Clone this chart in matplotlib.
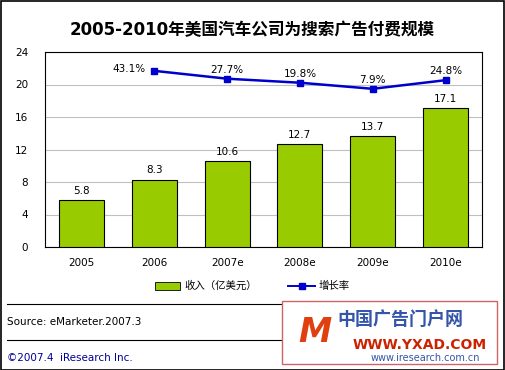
import matplotlib.pyplot as plt
from matplotlib.patches import Rectangle
from matplotlib.lines import Line2D

plt.rcParams['font.family'] = ['DejaVu Sans', 'Noto Sans CJK SC']

YEARS = ["2005", "2006", "2007e", "2008e", "2009e", "2010e"]
REVENUE = [5.8, 8.3, 10.6, 12.7, 13.7, 17.1]
GROWTH_YEARS = ["2006", "2007e", "2008e", "2009e", "2010e"]
GROWTH = [43.1, 27.7, 19.8, 7.9, 24.8]

GREEN = "#99cc00"
BLUE = "#0000cc"

W, H = 505, 370
fig = plt.figure(figsize=(W / 100, H / 100), dpi=100)


def fx(px):
    return px / W


def fy(py):
    return 1 - py / H


ax = fig.add_axes([fx(45), fy(247), fx(482) - fx(45), fy(52) - fy(247)])
x = list(range(len(YEARS)))
ax.bar(x, REVENUE, width=0.62, color=GREEN, edgecolor="black", linewidth=0.8, zorder=3)
for xi, v in zip(x, REVENUE):
    ax.annotate(f"{v:.1f}", (xi, v), ha="center", va="bottom", fontsize=7.5,
                textcoords="offset points", xytext=(0, 3))
ax.set_xlim(-0.5, len(YEARS) - 0.5)
ax.set_ylim(0, 24)
ax.set_yticks(range(0, 25, 4))
ax.set_xticks(x, YEARS)
ax.tick_params(length=0, labelsize=7.5, pad=8)
ax.tick_params(axis="y", pad=12)
ax.grid(axis="y", color="#c0c0c0", linewidth=0.8, zorder=0)
for s in ax.spines.values():
    s.set_linewidth(0.8)

# growth line on a hidden secondary scale
ax2 = ax.twinx()
gx = [YEARS.index(y) for y in GROWTH_YEARS]
ax2.plot(gx, GROWTH, color=BLUE, linewidth=1.8, marker="s", markersize=4.5, zorder=4)
for xi, g in zip(gx, GROWTH):
    if xi == 1:
        ax2.annotate(f"{g:.1f}%", (xi, g), ha="right", va="center", fontsize=7.5,
                     textcoords="offset points", xytext=(-6, 1))
    else:
        ax2.annotate(f"{g:.1f}%", (xi, g), ha="center", va="bottom", fontsize=7.5,
                     textcoords="offset points", xytext=(0, 3))
ax2.set_ylim(-302, 80)
ax2.set_yticks([])
for s in ax2.spines.values():
    s.set_visible(False)

fig.text(0.5, fy(30), "2005-2010年美国汽车公司为搜索广告付费规模", ha="center", va="center",
         fontsize=12, fontweight="bold")

# legend
fig.patches.append(Rectangle((fx(155), fy(290)), fx(25), fy(282) - fy(290), transform=fig.transFigure,
                             facecolor=GREEN, edgecolor="black", linewidth=0.6))
fig.text(fx(184), fy(286), "收入（亿美元）", va="center", fontsize=7.5)
fig.lines.append(Line2D([fx(288), fx(315)], [fy(286), fy(286)], transform=fig.transFigure,
                        color=BLUE, linewidth=1.4))
fig.lines.append(Line2D([fx(301.5)], [fy(286)], transform=fig.transFigure,
                        color=BLUE, marker="s", markersize=4))
fig.text(fx(319), fy(286), "增长率", va="center", fontsize=7.5)

# separators and footer
for py in (304, 340):
    fig.lines.append(Line2D([fx(7), fx(490)], [fy(py), fy(py)], transform=fig.transFigure,
                            color="black", linewidth=0.8))
fig.text(fx(7), fy(322), "Source: eMarketer.2007.3", va="center", fontsize=7.5)
fig.text(fx(7), fy(358), "©2007.4  iResearch Inc.", va="center", fontsize=7.5, color="#000099")

# watermark box
fig.patches.append(Rectangle((fx(282), fy(364)), fx(215), fy(301) - fy(364), transform=fig.transFigure,
                             facecolor="white", edgecolor="#cc6666", linewidth=1.0, zorder=5))
fig.text(fx(400), fy(320), "中国广告门户网", ha="center", va="center", fontsize=13,
         color="#3355aa", fontweight="bold", zorder=6)
fig.text(fx(420), fy(345), "WWW.YXAD.COM", ha="center", va="center", fontsize=10,
         color="#cc2200", fontweight="bold", zorder=6)
fig.text(fx(425), fy(358), "www.iresearch.com.cn", ha="center", va="center", fontsize=7,
         color="#3355aa", zorder=6)
fig.text(fx(315), fy(332), "M", ha="center", va="center", fontsize=24, color="#e04010",
         fontstyle="italic", fontweight="bold", zorder=6)

# outer border
fig.patches.append(Rectangle((0.001, 0.001), 0.997, 0.996, transform=fig.transFigure,
                             fill=False, edgecolor="black", linewidth=1.2))

fig.savefig("out.png", dpi=100)
